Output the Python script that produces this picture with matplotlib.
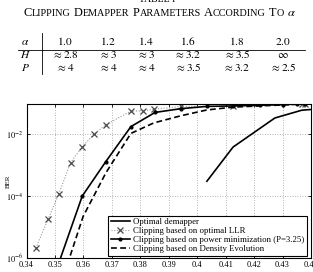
import matplotlib
matplotlib.use("Agg")
import matplotlib.pyplot as plt
from matplotlib.lines import Line2D
from matplotlib.ticker import FixedLocator, NullLocator, FuncFormatter

plt.rcParams['font.family'] = ['Liberation Serif', 'DejaVu Serif']
plt.rcParams['mathtext.fontset'] = 'stix'

# ---------------- table data ----------------
table_alpha = ["1.0", "1.2", "1.4", "1.6", "1.8", "2.0"]
table_H = [r"$\approx 2.8$", r"$\approx 3$", r"$\approx 3$", r"$\approx 3.2$", r"$\approx 3.5$", r"$\infty$"]
table_P = [r"$\approx 4$", r"$\approx 4$", r"$\approx 4$", r"$\approx 3.5$", r"$\approx 3.2$", r"$\approx 2.5$"]
table_rows = [r"$\alpha$", r"$H$", r"$P$"]

# ---------------- chart data ----------------
opt_x = [0.4034, 0.4126, 0.4273, 0.4368, 0.4400]
opt_ber = [3.0e-4, 3.8e-3, 3.3e-2, 5.9e-2, 6.2e-2]

llr_x = [0.3433, 0.3476, 0.3514, 0.3555, 0.3596, 0.3638, 0.3679, 0.3767, 0.3808,
         0.3848, 0.3943, 0.4126, 0.4368, 0.4379]
llr_ber = [2.1e-6, 1.8e-5, 1.2e-4, 1.2e-3, 3.9e-3, 1.0e-2, 2.0e-2, 5.5e-2, 5.6e-2,
           6.3e-2, 7.8e-2, 7.8e-2, 9.2e-2, 9.2e-2]

pow_x = [0.3512, 0.3596, 0.3679, 0.3767, 0.3852, 0.3943, 0.4033, 0.4126, 0.4220,
         0.4301, 0.4350, 0.4379]
pow_ber = [6.3e-7, 1.0e-4, 1.3e-3, 1.74e-2, 5.0e-2, 6.6e-2, 7.8e-2, 8.1e-2, 8.5e-2,
           8.9e-2, 9.3e-2, 9.5e-2]

de_x = [0.3512, 0.3599, 0.3679, 0.3767, 0.3848, 0.3943, 0.4034, 0.4126, 0.4220,
        0.4301, 0.4350, 0.4379]
de_ber = [8.0e-8, 2.2e-5, 5.6e-4, 1.05e-2, 2.3e-2, 3.9e-2, 6.0e-2, 7.4e-2, 8.1e-2,
          8.7e-2, 9.1e-2, 9.3e-2]

x_ticks = [0.34, 0.35, 0.36, 0.37, 0.38, 0.39, 0.40, 0.41, 0.42, 0.43, 0.44]
x_ticklabels = ["0.34", "0.35", "0.36", "0.37", "0.38", "0.39", "0.4", "0.41", "0.42", "0.43", "0.44"]
y_ticks = [1e-6, 1e-4, 1e-2]
y_ticklabels = [r"$10^{-6}$", r"$10^{-4}$", r"$10^{-2}$"]

labels = ["Optimal demapper",
          "Clipping based on optimal LLR",
          "Clipping based on power minimization (P=3.25)",
          "Clipping based on Density Evolution"]

W, H = 313, 272
fig = plt.figure(figsize=(W / 100, H / 100), dpi=100)
r = fig.canvas.get_renderer()


def fx(px):
    return px / W


def fy(py):
    return 1 - py / H


def tw(s, size):
    t = fig.text(0, 0, s, fontsize=size)
    w = t.get_window_extent(renderer=r).width
    t.remove()
    return w


# ---------------- caption ----------------
fig.text(fx(157), fy(1.8), "TABLE I", fontsize=7, ha='center', va='baseline')

words = ["CLIPPING", "DEMAPPER", "PARAMETERS", "ACCORDING", "TO"]
big, small = 9.0, 7.4


def layout(big, small, draw=False, x0=0.0, base=0.0):
    x = x0
    sp = 0.27 * small * 100 / 72
    for w in words:
        for s, size in ((w[0], big), (w[1:], small)):
            if draw:
                fig.text(fx(x), fy(base), s, fontsize=size, ha='left', va='baseline')
            x += tw(s, size) + 0.3
        x += sp
    if draw:
        fig.text(fx(x), fy(base), r"$\alpha$", fontsize=big, ha='left', va='baseline')
    x += tw(r"$\alpha$", big)
    return x - x0


total = layout(big, small)
scale = 271.0 / total
big *= scale
small *= scale
total = layout(big, small)
layout(big, small, draw=True, x0=159.5 - total / 2, base=16.5)

# ---------------- table ----------------
col_x = [65, 108, 146, 188, 237, 283]
row_base = [45, 57.5, 70.5]
tsize = 8.2
for lab, yb in zip(table_rows, row_base):
    fig.text(fx(25), fy(yb), lab, fontsize=tsize, ha='center', va='baseline')
for vals, yb in zip([table_alpha, table_H, table_P], row_base):
    for v, xc in zip(vals, col_x):
        fig.text(fx(xc), fy(yb), v if v.startswith('$') else "$" + v + "$",
                 fontsize=tsize, ha='center', va='baseline')
fig.add_artist(Line2D([fx(41.5), fx(41.5)], [fy(33), fy(74)], color='black', lw=0.6,
                      transform=fig.transFigure))
fig.add_artist(Line2D([fx(18), fx(305)], [fy(49.5), fy(49.5)], color='black', lw=0.6,
                      transform=fig.transFigure))

# ---------------- chart ----------------
left, right, top, bottom = 26.5, 311, 104, 258
ax = fig.add_axes([fx(left), fy(bottom), (right - left) / W, (bottom - top) / H])
ax.set_yscale('log')

ax.plot(opt_x, opt_ber, color='black', lw=1.2, label=labels[0])
ax.plot(llr_x, llr_ber, color='#9a9a9a', lw=0.8, linestyle=(0, (1, 1.5)),
        marker='x', markersize=4.3, markeredgecolor='#4a4a4a', markeredgewidth=0.9,
        label=labels[1])
ax.plot(pow_x, pow_ber, color='black', lw=1.2, marker='o', markersize=2,
        label=labels[2])
ax.plot(de_x, de_ber, color='black', lw=1.2, linestyle=(0, (3.5, 2)), label=labels[3])

ax.set_xlim(0.34, 0.44)
ax.set_ylim(1e-6, 10 ** -1.03)
ax.xaxis.set_major_locator(FixedLocator(x_ticks))
ax.set_xticklabels(x_ticklabels)
ax.yaxis.set_major_locator(FixedLocator(y_ticks))
ax.yaxis.set_major_formatter(FuncFormatter(lambda v, p: y_ticklabels[y_ticks.index(min(y_ticks, key=lambda t: abs(t - v)))]))
ax.yaxis.set_minor_locator(NullLocator())
ax.tick_params(axis='both', which='major', labelsize=6, direction='in', length=2.5,
               width=0.6, top=True, right=True, pad=2)
ax.grid(True, which='major', linestyle=(0, (1, 2)), color='#9a9a9a', lw=0.6)
for s in ax.spines.values():
    s.set_linewidth(0.8)

fig.text(fx(8), fy(181), "BER", rotation=90, fontsize=5, ha='center', va='center')

leg = ax.legend(loc='lower left', bbox_to_anchor=(0.2865, 0.013), borderaxespad=0,
                fontsize=6.3, frameon=True, fancybox=False, edgecolor='black', framealpha=1,
                handlelength=2.2, handletextpad=0.4, labelspacing=0.1, borderpad=0.3)
leg.get_frame().set_linewidth(0.8)

fig.savefig("out.png", dpi=100)
